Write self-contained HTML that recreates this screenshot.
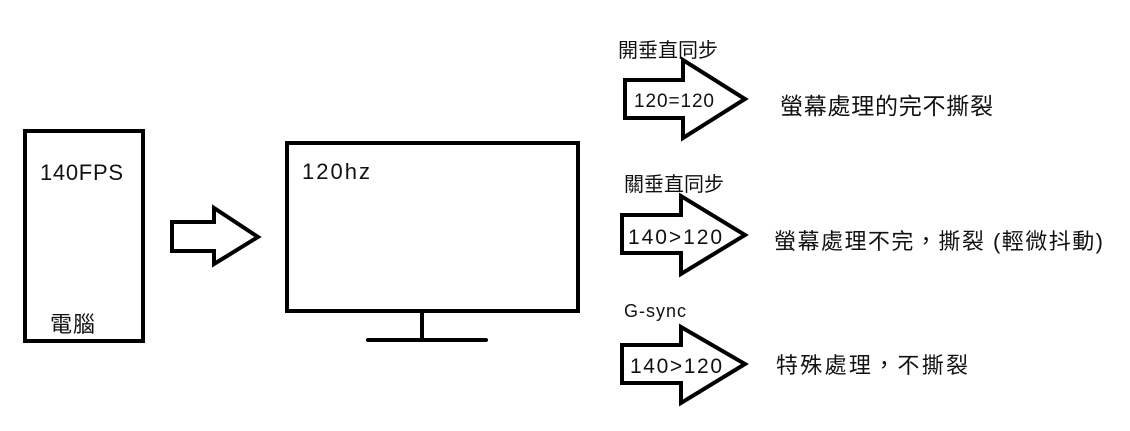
<!DOCTYPE html>
<html><head><meta charset="utf-8"><style>
body{margin:0;background:#fff;width:1130px;height:426px;overflow:hidden}
svg text{font-family:"Liberation Sans","Noto Sans CJK TC",sans-serif;fill:#111}
</style></head><body>
<svg width="1130" height="426" xmlns="http://www.w3.org/2000/svg">
<g fill="none" stroke="#000" stroke-width="4" stroke-linejoin="miter">
<rect x="25" y="131" width="118" height="210"/>
<polygon points="172,222 214,222 214,208 258,237 214,264 214,251 172,251"/>
<rect x="287" y="143" width="291" height="168"/>
<line x1="422" y1="311" x2="422" y2="339"/>
<line x1="368" y1="340" x2="486" y2="340" stroke-linecap="round"/>
<polygon points="625,80 683,80 683,60 745,99 683,138 683,118 625,118"/>
<polygon points="622,215 681,215 681,196 745,235 681,274 681,253 622,253"/>
<polygon points="622,345 681,345 681,327 745,364 681,403 681,383 622,383"/>
</g>
<text x="40" y="180" font-size="22" textLength="83">140FPS</text>
<text x="50" y="332" font-size="22" textLength="45">電腦</text>
<text x="302" y="179" font-size="22" textLength="68">120hz</text>
<text x="618" y="57" font-size="20">開垂直同步</text>
<text x="634" y="107" font-size="19" textLength="80">120=120</text>
<text x="780" y="114" font-size="23" textLength="213">螢幕處理的完不撕裂</text>
<text x="624" y="191" font-size="20">關垂直同步</text>
<text x="628" y="244" font-size="21" textLength="94">140&gt;120</text>
<text x="774" y="249" font-size="22" textLength="329">螢幕處理不完，撕裂 (輕微抖動)</text>
<text x="624" y="317" font-size="18" textLength="62">G-sync</text>
<text x="630" y="373" font-size="21" textLength="92">140&gt;120</text>
<text x="776" y="373" font-size="22" textLength="192">特殊處理，不撕裂</text>
</svg>
</body></html>
